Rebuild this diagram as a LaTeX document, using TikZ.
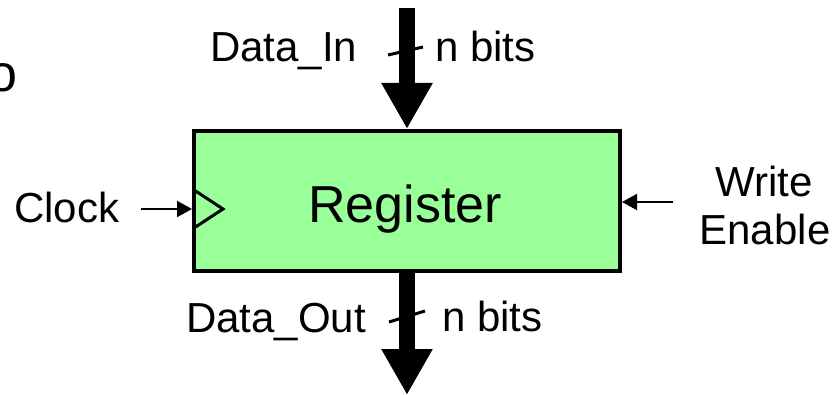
\documentclass[tikz,border=0pt]{standalone}
\usepackage{fontspec}
\setmainfont{Liberation Sans}
\usetikzlibrary{arrows.meta}
\definecolor{regfill}{RGB}{153,255,153}
\tikzset{
  lbl/.style={inner sep=0pt, font=\fontsize{42}{48}\selectfont},
  regbox/.style={draw=black, fill=regfill, line width=4pt, inner sep=0pt,
                 minimum width=426pt, minimum height=140pt},
  bus/.style={line width=16pt, -{Triangle[width=48pt,length=46pt]}},
  busslash/.style={line width=3pt},
  ctrl/.style={line width=2pt, -{Triangle[width=16pt,length=15pt]}},
  clktri/.style={line width=3pt, line join=miter}
}
\begin{document}
\begin{tikzpicture}[x=1pt,y=-1pt]
  \useasboundingbox (0,0) rectangle (840,395);

  % register block
  \node[regbox] (reg) at (407,201) {};
  \node[lbl, anchor=base, font=\fontsize{52}{60}\selectfont] (regname) at (405,223) {Register};

  % clock input marker
  \draw[clktri] (194,190) -- (223,209) -- (194,228);

  % data buses
  \coordinate (din) at (407,8);
  \coordinate (dout) at (407,395);
  \draw[bus] (din) -- (reg.north);
  \draw[bus] (reg.south) -- (dout);
  \draw[busslash] (388,55) -- (423,47);
  \draw[busslash] (389,322) -- (425,311);

  % control inputs
  \coordinate (clk) at (141,209);
  \coordinate (we) at (673,202);
  \draw[ctrl] (clk) -- (clk -| reg.west);
  \draw[ctrl] (we) -- (we -| reg.east);

  % labels
  \node[lbl, anchor=base west, font=\fontsize{52}{60}\selectfont] (title) at (-12,92) {o};
  \node[lbl, anchor=base west] (dinlbl) at (210,62) {Data\_In};
  \node[lbl, anchor=base west] (dinbits) at (435,62) {n bits};
  \node[lbl, anchor=base west] (doutlbl) at (186,332) {Data\_Out};
  \node[lbl, anchor=base west] (doutbits) at (442,331) {n bits};
  \node[lbl, anchor=base west] (clklbl) at (14,223) {Clock};
  \node[lbl, anchor=base] (welbla) at (764,197) {Write};
  \node[lbl, anchor=base] (welblb) at (765,245) {Enable};
\end{tikzpicture}
\end{document}
